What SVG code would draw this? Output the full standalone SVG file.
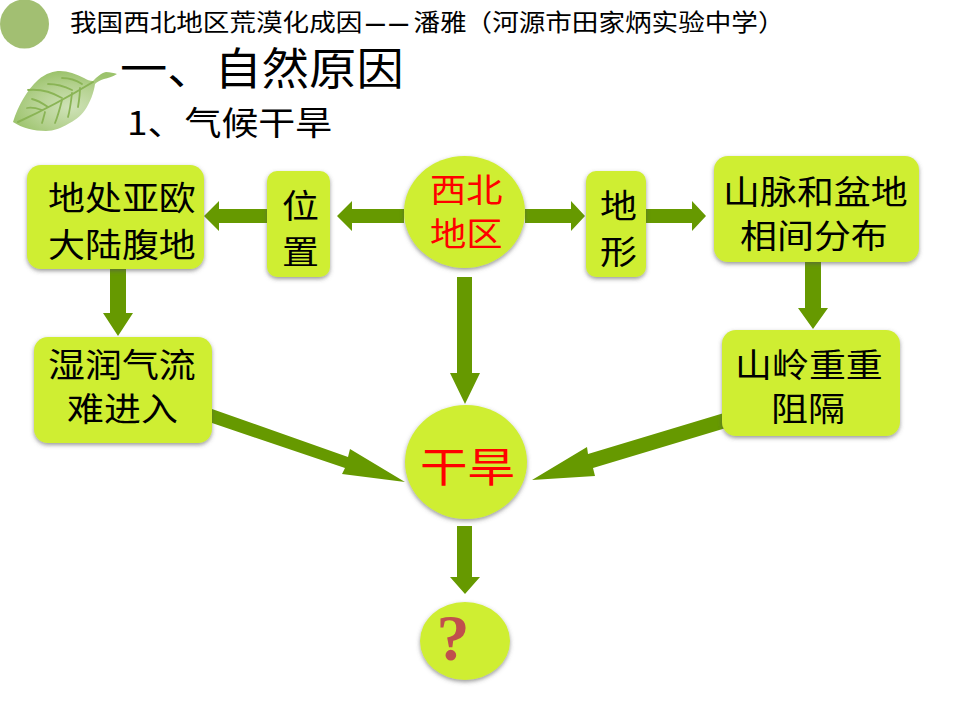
<svg xmlns="http://www.w3.org/2000/svg" width="960" height="720" viewBox="0 0 960 720">
  <style>
    text { font-family: "Noto Sans CJK SC", "Liberation Serif", serif; fill: #000; }
    .label { font-size: 33px; }
    .red { fill: #f00; }
    .shape { fill: #cfee33; filter: url(#shadow); }
    .arrow { fill: #669900; }
    .vein { fill: none; stroke: #8ab455; stroke-linecap: round; }
  </style>
  <defs>
    <filter id="shadow" x="-15%" y="-15%" width="130%" height="130%">
      <feDropShadow dx="0" dy="2" stdDeviation="2" flood-color="#555" flood-opacity="0.6"/>
    </filter>
    <filter id="soft" x="-5%" y="-5%" width="110%" height="110%">
      <feGaussianBlur stdDeviation="0.6"/>
    </filter>
    <radialGradient id="leafFill" cx="0.55" cy="0.6" r="0.6">
      <stop offset="0" stop-color="#cfe2b8"/>
      <stop offset="0.6" stop-color="#b4d18f"/>
      <stop offset="1" stop-color="#9cc36c"/>
    </radialGradient>
  </defs>

  <!-- heading: badge, title line, leaf, section titles -->
  <g id="heading">
    <circle cx="24.500" cy="24" r="24.500" fill="#a2bf72"/>
    <text transform="translate(70,31) scale(1.108,1)" font-size="24">我国西北地区荒漠化成因<tspan x="266" y="0" font-size="21" font-weight="900">—</tspan><tspan x="287" y="0" font-size="21" font-weight="900">—</tspan><tspan x="310" y="0">潘雅</tspan><tspan x="357" y="0">（</tspan><tspan x="381" y="0">河源市田家炳实验中学）</tspan></text>
    <g filter="url(#soft)">
      <path d="M13 122C18 106 27 90 38 80C46 73 54 71 60 71C68 71 76 74 84 78C87 80 90 81 93 81C97 77 101 73 106 72C110 72 114 73 117 74C112 77 108 78 104 79C100 80 97 82 95 84C94 92 90 103 85 110C80 117 74 121 68 124C61 128 54 131 46 131C34 131 22 128 13 122Z" fill="url(#leafFill)"/>
      <path class="vein" stroke-width="2" d="M18 122C40 112 70 96 93 82"/>
      <path class="vein" stroke-width="1.800" d="M62 98C50 91 38 89 28 90M48 107C42 103 37 100 32 99M42 110C36 108 31 107 27 108M72 90C64 86 56 84 48 84M82 84C76 80 69 78 62 78M45 112C44 116 43 120 42 123M62 100C60 108 58 116 55 123M72 93C71 102 70 110 68 117M80 88C80 95 79 101 78 107"/>
    </g>
    <text transform="translate(120,85) scale(1.075,1)" font-size="44">一、自然原因</text>
    <text transform="translate(127,135) scale(1.12,1)" font-size="33">1、气候干旱</text>
  </g>

  <!-- connectors -->
  <g id="connectors">
    <polygon class="arrow" points="404,209 352,209 352,201 337,216 352,231 352,223 404,223"/>
    <polygon class="arrow" points="267,209 219,209 219,201 204,216 219,231 219,223 267,223"/>
    <polygon class="arrow" points="525,209 571,209 571,201 585,216 571,231 571,223 525,223"/>
    <polygon class="arrow" points="646,209 692,209 692,201 706,216 692,231 692,223 646,223"/>
    <polygon class="arrow" points="110,269 126,269 126,313 133,313 118,336 103,313 110,313"/>
    <polygon class="arrow" points="805,262 821,262 821,308 828,308 813,329 798,308 805,308"/>
    <polygon class="arrow" points="457,277 472,277 472,373 480,373 465,404 450,373 457,373"/>
    <polygon class="arrow" points="457,526 472,526 472,577 480,577 465,594 450,577 457,577"/>
    <polygon class="arrow" points="212,409 348,457 350,449 405,482 342,474 345,468 212,423"/>
    <polygon class="arrow" points="724,413 588,454 587,447 532,480 595,476 593,468 726,428"/>
  </g>

  <g id="node-continental">
    <rect class="shape" x="27" y="165" width="177" height="104" rx="14"/>
    <text class="label" transform="translate(48,210) scale(1.12,1)">地处亚欧</text>
    <text class="label" transform="translate(48,257) scale(1.12,1)">大陆腹地</text>
  </g>
  <g id="node-location">
    <rect class="shape" x="267" y="171" width="63" height="106" rx="10"/>
    <text class="label" transform="translate(282,218) scale(1.12,1)">位</text>
    <text class="label" transform="translate(282,264) scale(1.12,1)">置</text>
  </g>
  <g id="node-northwest">
    <ellipse class="shape" cx="464.500" cy="212" rx="60.500" ry="56"/>
    <text class="label red" transform="translate(430,202) scale(1.1,1)">西北</text>
    <text class="label red" transform="translate(430,246) scale(1.1,1)">地区</text>
  </g>
  <g id="node-terrain">
    <rect class="shape" x="586" y="171" width="60" height="106" rx="10"/>
    <text class="label" transform="translate(600,218) scale(1.12,1)">地</text>
    <text class="label" transform="translate(600,264) scale(1.12,1)">形</text>
  </g>
  <g id="node-mountains">
    <rect class="shape" x="714" y="156" width="205" height="106" rx="14"/>
    <text class="label" transform="translate(723,204) scale(1.12,1)">山脉和盆地</text>
    <text class="label" transform="translate(740,248) scale(1.12,1)">相间分布</text>
  </g>
  <g id="node-moist-air">
    <rect class="shape" x="34" y="337" width="178" height="106" rx="14"/>
    <text class="label" transform="translate(48,377) scale(1.12,1)">湿润气流</text>
    <text class="label" transform="translate(67,421) scale(1.12,1)">难进入</text>
  </g>
  <g id="node-ridges">
    <rect class="shape" x="722" y="330" width="178" height="106" rx="14"/>
    <text class="label" transform="translate(735,377) scale(1.12,1)">山岭重重</text>
    <text class="label" transform="translate(771,421) scale(1.12,1)">阻隔</text>
  </g>
  <g id="node-arid">
    <ellipse class="shape" cx="466" cy="462" rx="61" ry="57"/>
    <text transform="translate(420,482) scale(1.16,1)" font-size="41" class="red">干旱</text>
  </g>
  <g id="node-question">
    <ellipse class="shape" cx="465" cy="641" rx="45" ry="39"/>
    <text x="453" y="660" text-anchor="middle" font-size="66" font-weight="700" style="font-family:'Liberation Serif',serif;fill:#c0504d">?</text>
  </g>
</svg>
